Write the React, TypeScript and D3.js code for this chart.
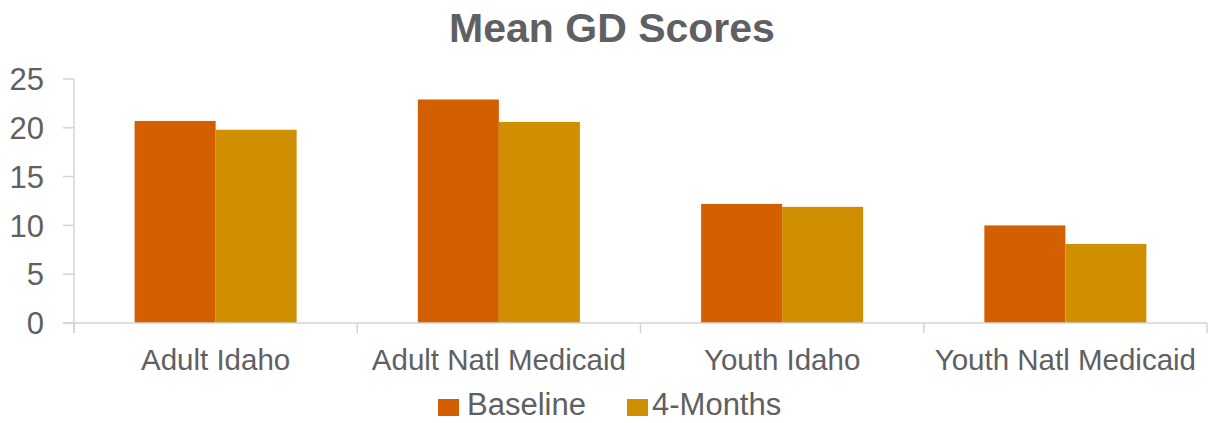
import React from "react";
import * as d3 from "d3";

const categories = ["Adult Idaho", "Adult Natl Medicaid", "Youth Idaho", "Youth Natl Medicaid"];
const seriesNames = ["Baseline", "4-Months"];
const baselineValues = [20.7, 22.9, 12.2, 10.0];
const fourMonthValues = [19.8, 20.6, 11.9, 8.1];
const yTicks = [0, 5, 10, 15, 20, 25];
const colors = ["#D45F00", "#D08F00"];
const title = "Mean GD Scores";

const W = 1211;
const H = 423;
const left = 74;
const right = 1207;
const top = 79;
const bottom = 323;
const textColor = "#5f6062";
const axisColor = "#d4d4d4";
const font = "'Liberation Sans', Arial, sans-serif";

export default function App() {
  const x0 = d3.scaleBand<string>().domain(categories).range([left, right]).paddingInner(0.428).paddingOuter(0.214);
  const x1 = d3.scaleBand<string>().domain(seriesNames).range([0, x0.bandwidth()]).padding(0);
  const y = d3.scaleLinear().domain([0, 25]).range([bottom, top]);
  const series = [baselineValues, fourMonthValues];
  const step = x0.step();
  const boundaries = d3.range(categories.length + 1).map((i) => left + i * step);
  const legendX = [438, 627];
  const legendTextX = [467, 652];

  return (
    <svg width={W} height={H} style={{ position: "absolute", left: 0, top: 0, background: "#fff" }} fontFamily={font}>
      <text x={612} y={42} textAnchor="middle" fontSize={41} fontWeight="bold" fill={textColor}>{title}</text>
      {/* y axis */}
      <line x1={left} x2={left} y1={y(25)} y2={bottom + 10} stroke={axisColor} strokeWidth={1.5} />
      {yTicks.map((t) => (
        <g key={t}>
          <line x1={left - 11} x2={left} y1={y(t)} y2={y(t)} stroke={axisColor} strokeWidth={1.5} />
          <text x={44} y={y(t)} dy="0.36em" textAnchor="end" fontSize={31} fill={textColor}>{t}</text>
        </g>
      ))}
      {/* bars */}
      {categories.map((c, i) => (
        <g key={c} transform={`translate(${x0(c)},0)`}>
          {seriesNames.map((s, j) => (
            <rect key={s} x={x1(s)} y={y(series[j][i])} width={x1.bandwidth()} height={bottom - y(series[j][i])} fill={colors[j]} />
          ))}
        </g>
      ))}
      {/* x axis */}
      <line x1={left - 11} x2={right} y1={bottom} y2={bottom} stroke={axisColor} strokeWidth={1.5} />
      {boundaries.map((b, i) => (
        <line key={i} x1={b} x2={b} y1={bottom} y2={bottom + 10} stroke={axisColor} strokeWidth={1.5} />
      ))}
      {categories.map((c) => (
        <text key={c} x={(x0(c) as number) + x0.bandwidth() / 2} y={370} textAnchor="middle" fontSize={29.5} fill={textColor}>{c}</text>
      ))}
      {/* legend */}
      {seriesNames.map((s, j) => (
        <g key={s}>
          <rect x={legendX[j]} y={399} width={21} height={17} fill={colors[j]} />
          <text x={legendTextX[j]} y={415} fontSize={31} fill={textColor}>{s}</text>
        </g>
      ))}
    </svg>
  );
}
